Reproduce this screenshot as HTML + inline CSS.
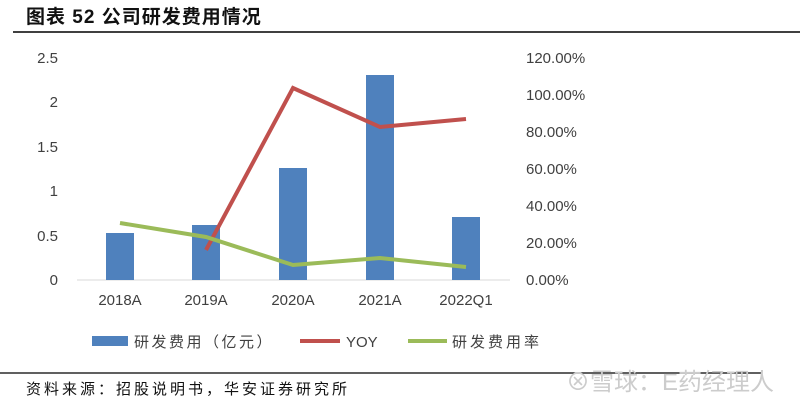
<!DOCTYPE html>
<html><head><meta charset="utf-8"><style>
body{margin:0;background:#fff;width:800px;height:405px;overflow:hidden;font-family:"Liberation Sans","Noto Sans CJK SC",sans-serif}
</style></head><body>
<svg width="800" height="405" xmlns="http://www.w3.org/2000/svg" style="position:absolute;left:0;top:0">
<text x="26" y="23" font-size="19" font-weight="bold" fill="#111" letter-spacing="1" font-family="'Liberation Sans','Noto Sans CJK SC',sans-serif">图表 52  公司研发费用情况</text>
<line x1="13" y1="32" x2="800" y2="32" stroke="#000" stroke-width="1.5"/>
<g font-size="15" fill="#404040" text-anchor="end">
<text x="58" y="63">2.5</text><text x="58" y="107">2</text><text x="58" y="152">1.5</text>
<text x="58" y="196">1</text><text x="58" y="241">0.5</text><text x="58" y="285">0</text>
</g>
<g font-size="15" fill="#404040" text-anchor="start">
<text x="526" y="63">120.00%</text><text x="526" y="100">100.00%</text><text x="526" y="137">80.00%</text>
<text x="526" y="174">60.00%</text><text x="526" y="211">40.00%</text><text x="526" y="248">20.00%</text>
<text x="526" y="285">0.00%</text>
</g>
<line x1="77" y1="280" x2="510" y2="280" stroke="#d9d9d9"/>
<g fill="#4f81bd">
<rect x="106" y="233" width="28" height="47"/>
<rect x="192" y="225" width="28" height="55"/>
<rect x="279" y="168" width="28" height="112"/>
<rect x="366" y="75" width="28" height="205"/>
<rect x="452" y="217" width="28" height="63"/>
</g>
<polyline points="206,250 293,88 380,127 466,119" fill="none" stroke="#c0504d" stroke-width="4"/>
<polyline points="120,223 206,237 293,265 380,258 466,267" fill="none" stroke="#9bbb59" stroke-width="4"/>
<g font-size="15" fill="#404040" text-anchor="middle">
<text x="120" y="305">2018A</text><text x="206" y="305">2019A</text><text x="293" y="305">2020A</text>
<text x="380" y="305">2021A</text><text x="466" y="305">2022Q1</text>
</g>
<rect x="92" y="336" width="36" height="10" fill="#4f81bd"/>
<text x="134" y="347" font-size="15" fill="#404040" letter-spacing="2.5">研发费用（亿元）</text>
<line x1="300" y1="341" x2="340" y2="341" stroke="#c0504d" stroke-width="4"/>
<text x="346" y="347" font-size="15" fill="#404040">YOY</text>
<line x1="408" y1="341" x2="447" y2="341" stroke="#9bbb59" stroke-width="4"/>
<text x="452" y="347" font-size="15" fill="#404040" letter-spacing="3">研发费用率</text>
<line x1="0" y1="373" x2="762" y2="373" stroke="#000" stroke-width="1.2"/>
<text x="26" y="394" font-size="15" fill="#111" letter-spacing="3">资料来源：招股说明书，华安证券研究所</text>
<text x="566" y="390" font-size="24" fill="#ccc">⊗雪球：E药经理人</text>
</svg>
</body></html>
